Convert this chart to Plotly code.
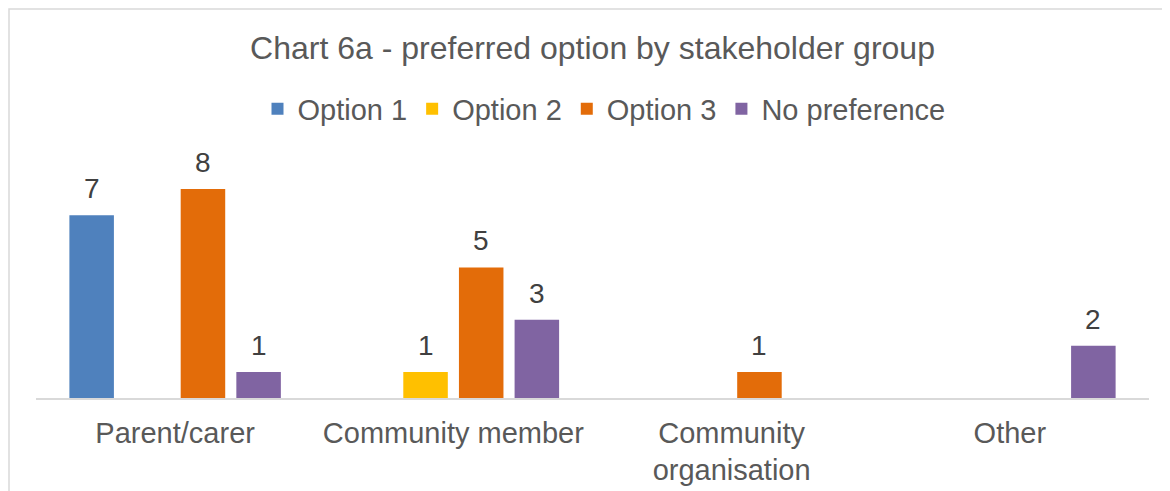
import plotly.graph_objects as go

# data
groups = ["Parent/carer", "Community member", "Community<br>organisation", "Other"]
series = ["Option 1", "Option 2", "Option 3", "No preference"]
option1 = [7, 0, 0, 0]
option2 = [0, 1, 0, 0]
option3 = [8, 5, 1, 0]
no_pref = [1, 3, 0, 2]

COLORS = ["#4F81BD", "#FFC000", "#E36C09", "#8064A2"]
TXT = "#595959"
LBL = "#404040"
FONT = "Liberation Sans, Arial, sans-serif"

# the page body has an 8px margin, so the figure is laid out 8px up/left
OFF = 8
W, H = 1170 - OFF, 491 - OFF
ML, MR, MT, MB = 36 - OFF, 21, 163 - OFF, 93
BARGAP = 0.2

fig = go.Figure()
values = [option1, option2, option3, no_pref]
for name, vals, col in zip(series, values, COLORS):
    fig.add_bar(
        name=name,
        x=list(range(len(groups))), y=vals,
        marker_color=col,
        marker_line_width=0,
        hoverinfo="skip",
    )

# data labels above bars (zeros are left unlabelled, as in the source)
slot = (1 - BARGAP) / len(series)
for i, vals in enumerate(values):
    for j, v in enumerate(vals):
        if not v:
            continue
        fig.add_annotation(
            x=j + (i - (len(series) - 1) / 2) * slot, y=v,
            xref="x", yref="y",
            text=str(v), showarrow=False,
            yanchor="bottom", yshift=9,
            font=dict(size=28, color=LBL, family=FONT),
        )

# light grey chart border (cropped on right and bottom in the source)
pw, ph = W - ML - MR, H - MT - MB
fig.add_shape(
    type="rect", xref="paper", yref="paper",
    x0=(1 - ML) / pw, x1=(W + 20 - ML) / pw,
    y0=-(MB + 20) / ph, y1=(H - MB - 1) / ph,
    line=dict(color="#D9D9D9", width=1.5),
    fillcolor="rgba(0,0,0,0)",
)

fig.update_layout(
    width=W, height=H,
    barmode="group", bargap=BARGAP, bargroupgap=0.2,
    title=dict(
        text="Chart 6a - preferred option by stakeholder group",
        font=dict(size=32, color=TXT, family=FONT),
        x=(ML + pw / 2) / W, xanchor="center",
        y=1 - (48 - OFF) / H, yanchor="middle", yref="container",
    ),
    legend=dict(
        orientation="h", xref="container", yref="container",
        x=(604 - OFF) / W, xanchor="center", y=1 - (109 - OFF) / H, yanchor="middle",
        font=dict(size=29, color=TXT, family=FONT),
        itemwidth=30, bgcolor="rgba(0,0,0,0)",
    ),
    xaxis=dict(
        tickmode="array", tickvals=list(range(len(groups))), ticktext=groups,
        range=[-0.5, len(groups) - 0.5],
        showline=True, linecolor="#D9D9D9", linewidth=1.5,
        showgrid=False, zeroline=False, ticks="",
        tickfont=dict(size=29, color=TXT, family=FONT),
        ticklabelstandoff=8, automargin=False,
    ),
    yaxis=dict(
        range=[0, 9], visible=False, showgrid=False, zeroline=False,
        automargin=False,
    ),
    margin=dict(l=ML, r=MR, t=MT, b=MB),
    paper_bgcolor="white",
    plot_bgcolor="white",
    font=dict(family=FONT, color=TXT),
    showlegend=True,
)

fig.write_html("out.html")
